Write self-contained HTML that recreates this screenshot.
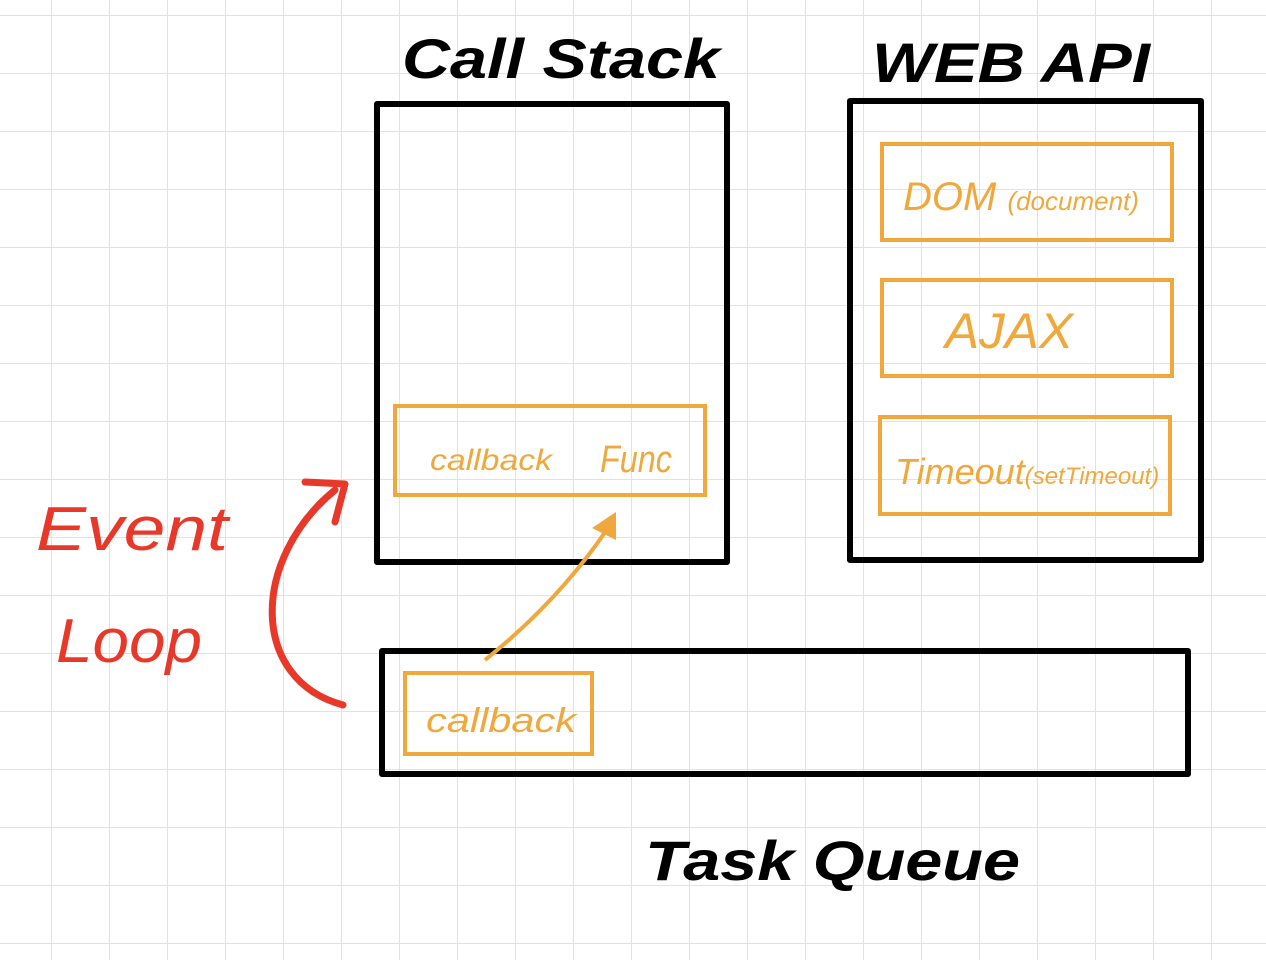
<!DOCTYPE html>
<html><head><meta charset="utf-8"><style>
html,body{margin:0;padding:0;background:#fff}
svg{display:block}
text{font-family:"Liberation Sans",sans-serif}
</style></head><body>
<svg width="1266" height="960" viewBox="0 0 1266 960" xmlns="http://www.w3.org/2000/svg">
<defs>
<pattern id="g" x="51" y="15" width="58" height="58" patternUnits="userSpaceOnUse">
<path d="M0 0V58M0 0H58" stroke="#e2e2e2" stroke-width="2" fill="none"/>
</pattern>
</defs>
<rect width="1266" height="960" fill="url(#g)"/>
<g fill="none" stroke="#000" stroke-width="6" stroke-linejoin="round">
<rect x="377" y="104" width="350" height="458"/>
<rect x="850" y="101" width="351" height="459"/>
<rect x="382" y="651" width="806" height="123"/>
</g>
<g fill="none" stroke="#f0a83c" stroke-width="4">
<rect x="882" y="144" width="290" height="96"/>
<rect x="882" y="280" width="290" height="96"/>
<rect x="880" y="417" width="290" height="97"/>
<rect x="395" y="406" width="310" height="89"/>
<rect x="405" y="673" width="187" height="81"/>
</g>
<path d="M485 660 Q560 600 610 525" stroke="#f0a83c" stroke-width="4" fill="none"/>
<path d="M592 528 L616 512 L616 540 Z" fill="#f0a83c"/>
<path d="M343 705 C250 680 250 560 335 490" stroke="#e8382a" stroke-width="7" fill="none" stroke-linecap="round"/>
<path d="M305 482 L345 484 L335 522" stroke="#e8382a" stroke-width="7" fill="none" stroke-linecap="round" stroke-linejoin="round"/>
<g font-style="italic" font-weight="bold">
<text x="402" y="78" font-size="56" fill="#000" textLength="318" lengthAdjust="spacingAndGlyphs">Call Stack</text>
<text x="872" y="82" font-size="56" fill="#000" textLength="278" lengthAdjust="spacingAndGlyphs">WEB API</text>
<text x="645" y="880" font-size="56" fill="#000" textLength="375" lengthAdjust="spacingAndGlyphs">Task Queue</text>
<text x="36" y="550" font-size="62" fill="#e8382a" font-weight="normal" textLength="192" lengthAdjust="spacingAndGlyphs">Event</text>
<text x="56" y="662" font-size="62" fill="#e8382a" font-weight="normal" textLength="146" lengthAdjust="spacingAndGlyphs">Loop</text>
</g>
<g fill="#f0a83c" font-style="italic">
<text x="903" y="210" font-size="40">DOM <tspan font-size="26">(document)</tspan></text>
<text x="945" y="348" font-size="50" textLength="128" lengthAdjust="spacingAndGlyphs">AJAX</text>
<text x="895" y="484" font-size="36">Timeout<tspan font-size="24">(setTimeout)</tspan></text>
<text x="430" y="470" font-size="30" textLength="122" lengthAdjust="spacingAndGlyphs">callback</text>
<text x="600" y="472" font-size="38" textLength="72" lengthAdjust="spacingAndGlyphs">Func</text>
<text x="426" y="732" font-size="34" textLength="150" lengthAdjust="spacingAndGlyphs">callback</text>
</g>
</svg>
</body></html>
